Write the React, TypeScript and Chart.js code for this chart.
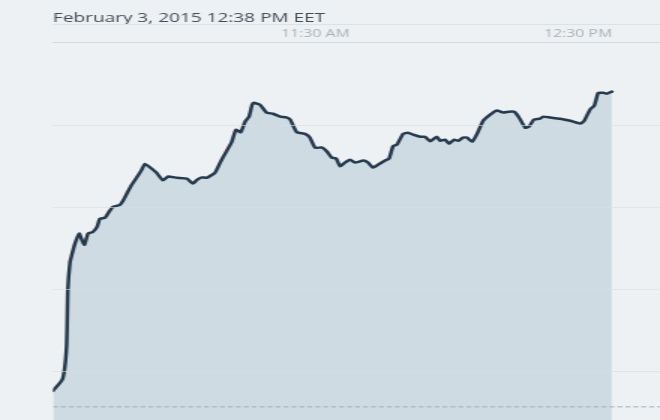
import React, { useEffect, useRef } from "react";
import { Chart, registerables } from "chart.js";

Chart.register(...registerables);

const titleText = "February 3, 2015 12:38 PM EET";
const tickMinutes = [60, 120];
const tickLabels = ["11:30 AM", "12:30 PM"];
const gridValues = [760, 780, 800, 820];
const previousClose = 751.5;
const axisMinutes = [0, 138.7];
const axisValues = [748.3, 840.2];

// minutes after 10:30 AM EET
const minutes = [
  0, 2.2, 3.1, 3.4, 3.9, 4.3, 5.0, 6.0, 6.6, 7.2, 8.0, 9.1, 10.1, 10.7, 11.9, 12.8,
  13.7, 15.3, 16.0, 17.1, 18.0, 19.4, 20.3, 21.0, 22.2, 23.7, 25.1, 26.3, 28.3, 30.6,
  32.0, 32.9, 34.0, 35.1, 37.0, 38.2, 38.9, 40.8, 41.8, 42.9, 43.9, 44.8, 45.5, 45.9,
  47.3, 48.8, 50.3, 51.9, 53.3, 54.2, 55.7, 57.6, 58.7, 59.9, 61.4, 62.6, 63.7, 64.7,
  65.6, 66.7, 67.9, 69.0, 70.9, 72.0, 73.1, 74.3, 75.9, 76.8, 77.7, 78.6, 80.0, 81.1,
  82.3, 83.9, 85.0, 86.2, 87.7, 88.5, 89.6, 90.5, 91.7, 92.6, 93.7, 94.6, 95.8, 96.9,
  98.3, 99.9, 101.4, 102.9, 104.2, 105.4, 106.5, 107.9, 108.8, 109.9, 111.3, 112.0,
  113.6, 115.9, 118.2, 120.5, 121.4, 122.7, 123.7, 124.6, 125.7, 126.6, 127.7,
];

const prices = [
  755.4, 758.3, 766.1, 780.0, 786.8, 788.5, 791.2, 793.7, 792.2, 791.0, 793.7, 794.1,
  795.4, 797.3, 797.6, 799.0, 800.2, 800.7, 801.7, 803.9, 805.6, 807.8, 809.3, 810.7,
  809.8, 808.5, 806.7, 807.6, 807.3, 807.1, 805.9, 806.8, 807.4, 807.3, 808.5, 811.0,
  812.4, 815.9, 819.0, 818.4, 821.0, 822.2, 825.1, 825.6, 825.1, 823.2, 822.9, 822.2,
  822.0, 821.5, 818.4, 818.0, 817.1, 814.6, 814.7, 813.7, 812.2, 812.0, 810.1, 811.0,
  811.7, 811.0, 811.5, 811.0, 809.8, 810.5, 811.5, 812.0, 815.0, 815.4, 818.0, 818.3,
  817.8, 817.3, 817.3, 816.2, 817.3, 816.3, 816.6, 815.6, 816.6, 816.3, 817.1, 817.1,
  816.1, 818.0, 821.2, 822.7, 823.7, 823.2, 823.4, 823.4, 822.0, 819.5, 819.8, 821.5,
  821.7, 822.2, 822.0, 821.7, 821.2, 820.5, 821.2, 823.9, 824.9, 828.0, 828.0, 827.8,
  828.3,
];

export default function App() {
  const ref = useRef<HTMLCanvasElement>(null);

  useEffect(() => {
    document.body.style.margin = "0";
    document.body.style.background = "#eef1f3";
    const canvas = ref.current;
    if (!canvas) return;

    const separator = {
      id: "separator",
      afterDraw(chart: any) {
        const { ctx, chartArea } = chart;
        ctx.save();
        ctx.strokeStyle = "#dce1e4";
        ctx.lineWidth = 1;
        ctx.beginPath();
        ctx.moveTo(chartArea.left, 24.5);
        ctx.lineTo(chart.width, 24.5);
        ctx.stroke();
        ctx.restore();
      },
    };

    const chart = new Chart(canvas, {
      type: "line",
      data: {
        datasets: [
          {
            label: "Previous close",
            data: axisMinutes.map((m) => ({ x: m, y: previousClose })),
            borderColor: "#a2abb1",
            borderWidth: 1,
            borderDash: [3.3, 2],
            pointRadius: 0,
            fill: false,
          },
          {
            label: "Index",
            data: minutes.map((m, i) => ({ x: m, y: prices[i] })),
            borderColor: "#263a4e",
            borderWidth: 2.5,
            backgroundColor: "#cfdbe2",
            fill: "start",
            pointRadius: 0,
            tension: 0.15,
            borderJoinStyle: "round",
            borderCapStyle: "round",
          },
        ],
      },
      options: {
        responsive: false,
        animation: false,
        devicePixelRatio: 1,
        layout: { padding: { left: 35.33, top: 0, right: 0, bottom: 0 } },
        plugins: {
          legend: { display: false },
          tooltip: { enabled: false },
          title: {
            display: true,
            text: titleText,
            align: "start",
            color: "#424d58",
            font: { family: "'Open Sans', sans-serif", size: 12.7, weight: "normal" },
            padding: { top: 10.5, bottom: 0 },
          },
        },
        scales: {
          x: {
            type: "linear",
            position: "top",
            min: axisMinutes[0],
            max: axisMinutes[1],
            grid: { display: false, drawTicks: false },
            border: { display: true, color: "#d3d9dd" },
            ticks: {
              padding: 2.2,
              color: "#a9b0b6",
              font: { family: "'Open Sans', sans-serif", size: 10.5 },
              maxRotation: 0,
              autoSkip: false,
              callback: (v: any) => {
                const i = tickMinutes.indexOf(Number(v));
                return i >= 0 ? tickLabels[i] : "";
              },
            },
            afterBuildTicks: (axis: any) => {
              axis.ticks = tickMinutes.map((v) => ({ value: v }));
            },
          },
          y: {
            type: "linear",
            min: axisValues[0],
            max: axisValues[1],
            grid: { color: "rgba(214,222,227,0.6)", drawTicks: false, z: 1 },
            border: { display: false },
            ticks: { display: false },
            afterBuildTicks: (axis: any) => {
              axis.ticks = gridValues.map((v) => ({ value: v }));
            },
          },
        },
      },
      plugins: [separator],
    } as any);

    return () => chart.destroy();
  }, []);

  return (
    <canvas
      ref={ref}
      width={440}
      height={420}
      style={{ width: "660px", height: "420px", display: "block", background: "#eef1f3" }}
    />
  );
}
